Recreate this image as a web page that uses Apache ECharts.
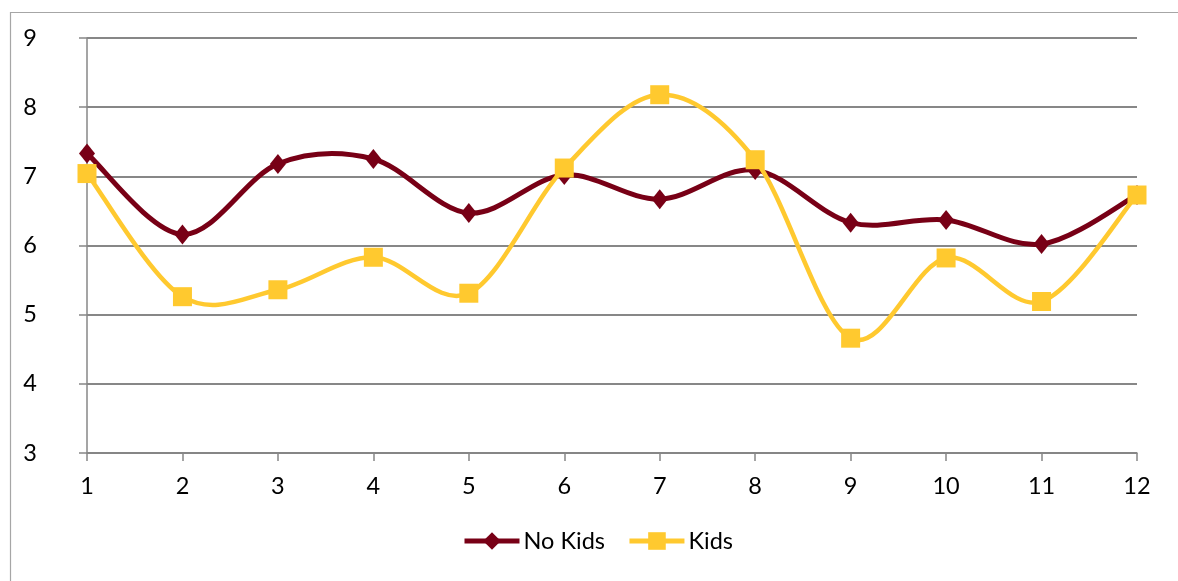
<!DOCTYPE html>
<html>
<head>
<meta charset="utf-8">
<script src="https://cdn.jsdelivr.net/npm/echarts@6/dist/echarts.min.js"></script>
<style>
  html, body { margin: 0; padding: 0; background: #fff; }
  #chart { width: 1178px; height: 581px; }
</style>
</head>
<body>
<div id="chart"></div>
<script>
// Month index along the x axis
const categories = ['1', '2', '3', '4', '5', '6', '7', '8', '9', '10', '11', '12'];
// Scores per month for each group
const noKids = [7.33, 6.16, 7.18, 7.25, 6.47, 7.02, 6.67, 7.09, 6.33, 6.37, 6.02, 6.73];
const kids   = [7.04, 5.26, 5.36, 5.83, 5.31, 7.12, 8.18, 7.24, 4.66, 5.82, 5.19, 6.73];
// Value axis range
const yMin = 3, yMax = 9, yStep = 1;

const FONT = 'Lato';
const FONT_SIZE = 23.5;
const GRID_GRAY = '#878787';
const MAROON = '#780016';
const GOLD = '#FFC92F';

// Smoothed connector: a cubic Bezier per segment (Catmull-Rom style tangents),
// with endpoints taken from the series values through the axis scales.
function curveSeries(id, values, color, width, z) {
  return {
    id: id,
    type: 'custom',
    data: values.map((v, i) => [i, v]),
    encode: { x: 0, y: 1 },
    z: z,
    silent: true,
    renderItem: function (params, api) {
      const i = params.dataIndex;
      const n = values.length;
      if (i >= n - 1) return null;
      const clampIdx = k => Math.max(0, Math.min(n - 1, k));
      const pt = k => api.coord([clampIdx(k), values[clampIdx(k)]]);
      const p0 = pt(i - 1), p1 = pt(i), p2 = pt(i + 1), p3 = pt(i + 2);
      return {
        type: 'bezierCurve',
        shape: {
          x1: p1[0], y1: p1[1],
          x2: p2[0], y2: p2[1],
          cpx1: p1[0] + (p2[0] - p0[0]) / 6, cpy1: p1[1] + (p2[1] - p0[1]) / 6,
          cpx2: p2[0] - (p3[0] - p1[0]) / 6, cpy2: p2[1] - (p3[1] - p1[1]) / 6
        },
        style: { stroke: color, lineWidth: width, fill: null, lineCap: 'round' }
      };
    }
  };
}

const chart = echarts.init(document.getElementById('chart'), null, { renderer: 'canvas' });

chart.setOption({
  backgroundColor: '#ffffff',
  animation: false,
  textStyle: { fontFamily: FONT },
  graphic: [{
    type: 'rect',
    left: 8, top: 10,
    shape: { width: 1200, height: 620 },
    style: { fill: 'none', stroke: '#a6a6a6', lineWidth: 1.2 },
    silent: true
  }],
  grid: { left: 87, right: 41, top: 38, bottom: 128, containLabel: false },
  legend: {
    left: 462, top: 529, padding: 0,
    itemWidth: 55, itemHeight: 22, itemGap: 22,
    textStyle: { fontFamily: FONT, fontSize: FONT_SIZE, color: '#000', padding: [0, 0, 0, -1] },
    data: [
      { name: 'No Kids', lineStyle: { color: MAROON, width: 5, opacity: 1 } },
      { name: 'Kids', lineStyle: { color: GOLD, width: 5, opacity: 1 } }
    ]
  },
  xAxis: {
    type: 'category',
    data: categories,
    boundaryGap: false,
    axisLine: { lineStyle: { color: GRID_GRAY, width: 1.5 } },
    axisTick: { show: true, length: 8, alignWithLabel: true, lineStyle: { color: GRID_GRAY, width: 1.5 } },
    axisLabel: { color: '#000', fontSize: FONT_SIZE, fontFamily: FONT, margin: 21 },
    splitLine: { show: false }
  },
  yAxis: {
    type: 'value',
    min: yMin, max: yMax, interval: yStep,
    axisLine: { show: true, lineStyle: { color: GRID_GRAY, width: 1.5 } },
    axisTick: { show: true, length: 8, lineStyle: { color: GRID_GRAY, width: 1.5 } },
    axisLabel: { color: '#000', fontSize: FONT_SIZE, fontFamily: FONT, margin: 50, align: 'right' },
    splitLine: { show: true, lineStyle: { color: GRID_GRAY, width: 2 } }
  },
  series: [
    curveSeries('noKidsCurve', noKids, MAROON, 5, 1),
    {
      name: 'No Kids',
      type: 'line',
      data: noKids,
      symbol: 'diamond',
      symbolSize: [16, 20],
      itemStyle: { color: MAROON },
      lineStyle: { color: MAROON, width: 5, opacity: 0 },
      z: 2
    },
    curveSeries('kidsCurve', kids, GOLD, 4.5, 3),
    {
      name: 'Kids',
      type: 'line',
      data: kids,
      symbol: 'rect',
      symbolSize: 19,
      itemStyle: { color: GOLD },
      lineStyle: { color: GOLD, width: 4.5, opacity: 0 },
      z: 4
    }
  ]
});
</script>
</body>
</html>
